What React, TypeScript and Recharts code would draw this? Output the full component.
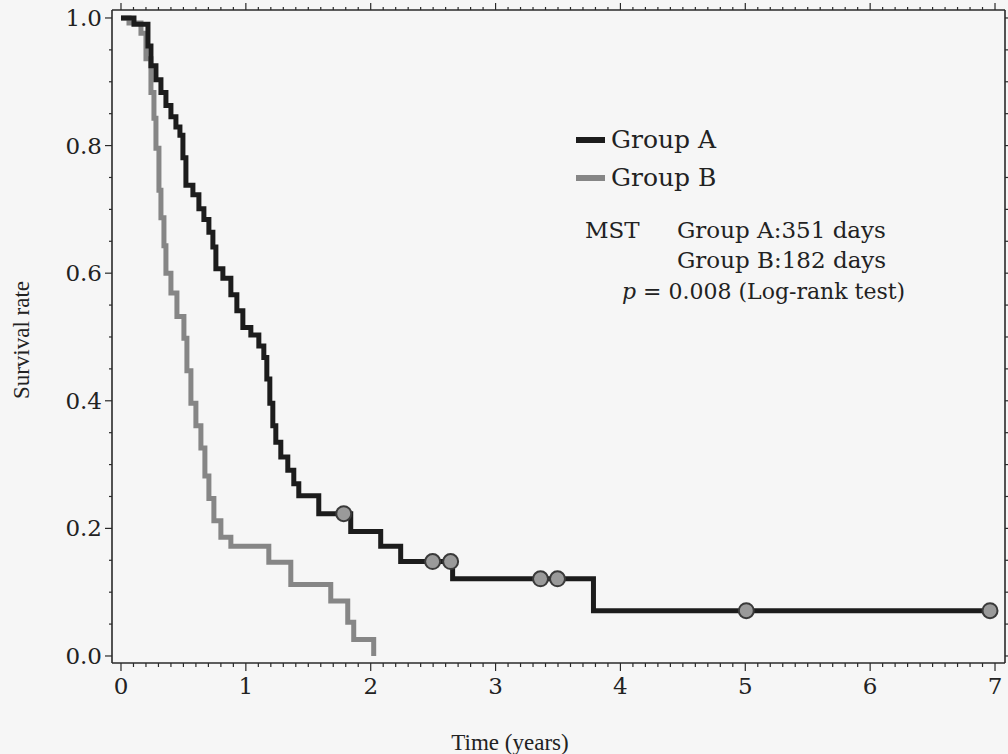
import {
  ComposedChart,
  Line,
  Scatter,
  XAxis,
  YAxis,
} from "recharts";

// Kaplan-Meier steps (time in years, survival rate)
const timesA = [0, 0.104, 0.216, 0.24, 0.28, 0.32, 0.36, 0.4, 0.44, 0.472, 0.496, 0.52, 0.576, 0.624, 0.664, 0.704, 0.736, 0.76, 0.816, 0.88, 0.928, 0.976, 1.04, 1.104, 1.144, 1.168, 1.192, 1.216, 1.24, 1.28, 1.336, 1.384, 1.424, 1.584, 1.84, 2.08, 2.24, 2.656, 3.784, 6.96];
const survivalA = [1.0, 0.99, 0.956, 0.925, 0.903, 0.883, 0.863, 0.845, 0.829, 0.816, 0.781, 0.738, 0.723, 0.701, 0.684, 0.664, 0.641, 0.607, 0.592, 0.566, 0.541, 0.515, 0.503, 0.486, 0.468, 0.434, 0.396, 0.361, 0.335, 0.312, 0.291, 0.27, 0.251, 0.223, 0.195, 0.172, 0.148, 0.121, 0.071, 0.071];

const timesB = [0, 0.064, 0.16, 0.2, 0.24, 0.264, 0.28, 0.304, 0.32, 0.344, 0.36, 0.4, 0.448, 0.504, 0.528, 0.56, 0.6, 0.64, 0.672, 0.704, 0.744, 0.8, 0.88, 1.184, 1.36, 1.68, 1.816, 1.864, 2.024];
const survivalB = [1.0, 0.992, 0.976, 0.936, 0.883, 0.843, 0.796, 0.73, 0.687, 0.643, 0.6, 0.569, 0.532, 0.498, 0.447, 0.396, 0.361, 0.326, 0.282, 0.247, 0.212, 0.186, 0.172, 0.147, 0.112, 0.086, 0.053, 0.026, 0.0];

// censored observations in group A
const censorTimes = [1.784, 2.496, 2.64, 3.36, 3.496, 5.008, 6.96];
const censorSurvival = [0.223, 0.148, 0.148, 0.121, 0.121, 0.071, 0.071];

const xLabels = [0, 1, 2, 3, 4, 5, 6, 7];
const yLabels = [0, 0.2, 0.4, 0.6, 0.8, 1.0];

const dataA = timesA.map((t, i) => ({ t, s: survivalA[i] }));
const dataB = timesB.map((t, i) => ({ t, s: survivalB[i] }));
const censors = censorTimes.map((t, i) => ({ t, s: censorSurvival[i] }));

const xTicks = Array.from({ length: 71 }, (_, i) => i / 10);
const yTicks = Array.from({ length: 21 }, (_, i) => (i * 5) / 100);

const X_DOMAIN = [-0.072, 7.08];
const Y_DOMAIN = [-0.011, 1.0125];
const tickFont = "'DejaVu Serif', serif";
const ink = "#2a2a2a";

const isMajorX = (v: number) => xLabels.some((l) => Math.abs(l - v) < 1e-6);
const isMajorY = (v: number) => yLabels.some((l) => Math.abs(l - v) < 1e-6);

const BottomTick = (props: any) => {
  const { x, y, payload } = props;
  const major = isMajorX(payload.value);
  return (
    <g>
      <line x1={x} x2={x} y1={y} y2={y + (major ? 8 : 4)} stroke={ink} strokeWidth={1.2} />
      {major && (
        <text x={x} y={y + 31} textAnchor="middle" fontFamily={tickFont} fontSize={23} fill="#222">
          {Math.round(payload.value)}
        </text>
      )}
    </g>
  );
};

const TopTick = (props: any) => {
  const { x, y, payload } = props;
  const major = isMajorX(payload.value);
  return <line x1={x} x2={x} y1={y} y2={y - (major ? 7 : 3)} stroke={ink} strokeWidth={1.2} />;
};

const LeftTick = (props: any) => {
  const { x, y, payload } = props;
  const major = isMajorY(payload.value);
  return (
    <g>
      <line x1={x} x2={x - (major ? 7 : 3)} y1={y} y2={y} stroke={ink} strokeWidth={1.2} />
      {major && (
        <text x={x - 10} y={y + 8} textAnchor="end" fontFamily={tickFont} fontSize={23} fill="#222">
          {payload.value.toFixed(1)}
        </text>
      )}
    </g>
  );
};

const RightTick = (props: any) => {
  const { x, y, payload } = props;
  const major = isMajorY(payload.value);
  return <line x1={x} x2={x + (major ? 6 : 3)} y1={y} y2={y} stroke={ink} strokeWidth={1.2} />;
};

const CensorMark = (props: any) => {
  const { cx, cy } = props;
  return <circle cx={cx} cy={cy} r={7.5} fill="#9a9a9a" stroke="#3a3a3a" strokeWidth={2} />;
};

const legendText = {
  position: "absolute" as const,
  fontFamily: tickFont,
  color: "#222",
  whiteSpace: "nowrap" as const,
};

export default function App() {
  return (
    <div style={{ position: "absolute", left: 0, top: 0, width: 1008, height: 754, background: "#f6f6f6" }}>
      <ComposedChart
        width={1008}
        height={754}
        margin={{ top: 9, right: 2, left: 111, bottom: 90 }}
      >
        <XAxis
          xAxisId="bottom"
          type="number"
          dataKey="t"
          domain={X_DOMAIN}
          allowDataOverflow
          ticks={xTicks}
          interval={0}
          tick={<BottomTick />}
          tickLine={false}
          tickSize={0}
          tickMargin={0}
          height={1}
          axisLine={{ stroke: ink, strokeWidth: 1.6 }}
        />
        <XAxis
          xAxisId="top"
          orientation="top"
          type="number"
          dataKey="t"
          domain={X_DOMAIN}
          allowDataOverflow
          ticks={xTicks}
          interval={0}
          tick={<TopTick />}
          tickLine={false}
          tickSize={0}
          tickMargin={0}
          height={1}
          axisLine={{ stroke: ink, strokeWidth: 1.6 }}
        />
        <YAxis
          yAxisId="left"
          type="number"
          dataKey="s"
          domain={Y_DOMAIN}
          allowDataOverflow
          ticks={yTicks}
          interval={0}
          tick={<LeftTick />}
          tickLine={false}
          tickSize={0}
          tickMargin={0}
          width={1}
          axisLine={{ stroke: ink, strokeWidth: 1.6 }}
        />
        <YAxis
          yAxisId="right"
          orientation="right"
          type="number"
          dataKey="s"
          domain={Y_DOMAIN}
          allowDataOverflow
          ticks={yTicks}
          interval={0}
          tick={<RightTick />}
          tickLine={false}
          tickSize={0}
          tickMargin={0}
          width={1}
          axisLine={{ stroke: ink, strokeWidth: 1.6 }}
        />
        <Line
          xAxisId="bottom"
          yAxisId="left"
          data={dataB}
          dataKey="s"
          type="stepAfter"
          stroke="#868686"
          strokeWidth={5}
          dot={false}
          isAnimationActive={false}
        />
        <Line
          xAxisId="bottom"
          yAxisId="left"
          data={dataA}
          dataKey="s"
          type="stepAfter"
          stroke="#1c1c1c"
          strokeWidth={5}
          dot={false}
          isAnimationActive={false}
        />
        <Scatter
          xAxisId="top"
          yAxisId="right"
          data={censors}
          dataKey="s"
          shape={<CensorMark />}
          isAnimationActive={false}
        />
      </ComposedChart>

      {/* axis titles */}
      <div
        style={{
          ...legendText,
          fontFamily: "'Liberation Serif', serif",
          fontSize: 23,
          left: 22,
          top: 340,
          transform: "translate(-50%, -50%) rotate(-90deg)",
        }}
      >
        Survival rate
      </div>
      <div
        style={{
          ...legendText,
          fontFamily: "'Liberation Serif', serif",
          fontSize: 23,
          lineHeight: "23px",
          left: 510,
          top: 731,
          transform: "translateX(-50%)",
        }}
      >
        Time (years)
      </div>

      {/* legend */}
      <div style={{ position: "absolute", left: 576, top: 137, width: 29, height: 6, background: "#1c1c1c" }} />
      <div style={{ ...legendText, fontSize: 25, lineHeight: "26px", left: 611, top: 127 }}>Group A</div>
      <div style={{ position: "absolute", left: 576, top: 175, width: 29, height: 6, background: "#868686" }} />
      <div style={{ ...legendText, fontSize: 25, lineHeight: "26px", left: 611, top: 165 }}>Group B</div>

      {/* annotation */}
      <div style={{ ...legendText, fontSize: 23, lineHeight: "22px", left: 585, top: 219 }}>MST</div>
      <div style={{ ...legendText, fontSize: 23, lineHeight: "22px", left: 677, top: 219 }}>Group A:351 days</div>
      <div style={{ ...legendText, fontSize: 23, lineHeight: "22px", left: 677, top: 249 }}>Group B:182 days</div>
      <div style={{ ...legendText, fontSize: 22, lineHeight: "22px", left: 622, top: 281 }}>
        <i>p</i> = 0.008 (Log-rank test)
      </div>
    </div>
  );
}
